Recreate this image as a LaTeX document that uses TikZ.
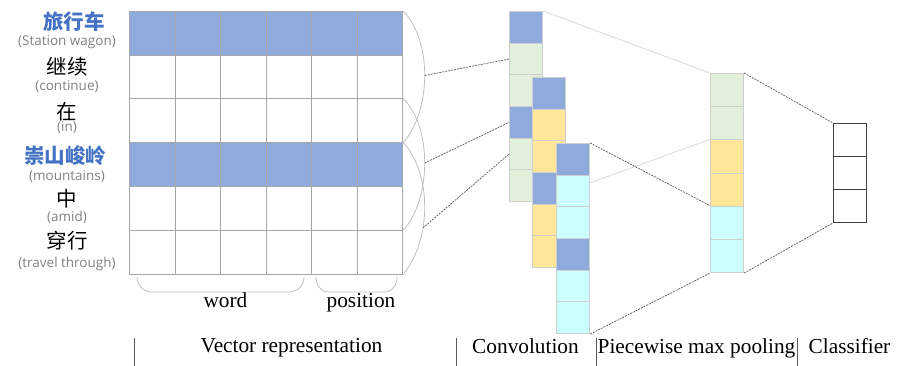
\documentclass[tikz,border=0pt]{standalone}
\usepackage{fontspec}
\setmainfont{Liberation Serif}
\newfontfamily\cjk{Noto Sans CJK SC}
\newfontfamily\engl{Open Sans}
\usetikzlibrary{calc}
\definecolor{cblue}{HTML}{8FAADC}
\definecolor{cgreen}{HTML}{E2EFDA}
\definecolor{cyellow}{HTML}{FFE699}
\definecolor{ccyan}{HTML}{CCFFFF}
\definecolor{gridgray}{HTML}{A6A6A6}
\definecolor{cellgray}{HTML}{CFCFCF}
\definecolor{arcgray}{HTML}{BFBFBF}
\definecolor{dashgray}{HTML}{595959}
\definecolor{lightline}{HTML}{D9D9D9}
\definecolor{txtblue}{HTML}{4472C4}
\definecolor{txtgray}{HTML}{808080}
\definecolor{clsgray}{HTML}{404040}
\begin{document}
\begin{tikzpicture}[x=1pt,y=-1pt,
  gcell/.style={draw=gridgray, line width=0.9pt, inner sep=0pt, minimum width=45.5pt, minimum height=43.83pt, anchor=north west},
  ccell/.style={draw=cellgray, line width=1.1pt, inner sep=0pt, minimum width=33pt, minimum height=31.67pt, anchor=north west},
  pcell/.style={draw=cellgray, line width=1.1pt, inner sep=0pt, minimum width=33pt, minimum height=33.17pt, anchor=north west},
  kcell/.style={draw=clsgray, line width=1pt, fill=white, inner sep=0pt, minimum width=33pt, minimum height=33pt, anchor=north west},
  zh/.style={font=\cjk\fontsize{20.5}{21}\selectfont, inner sep=0pt},
  zhb/.style={font=\cjk\bfseries\fontsize{20.5}{21}\selectfont, text=txtblue, inner sep=0pt},
  en/.style={font=\engl\fontsize{13.5}{14}\selectfont, text=txtgray, inner sep=0pt},
  serif/.style={font=\fontsize{21.3}{22}\selectfont, inner sep=0pt, anchor=base},
  bracket/.style={draw=arcgray, line width=0.8pt},
  dline/.style={draw=dashgray, line width=0.7pt, dash pattern=on 2pt off 1pt},
  lline/.style={draw=lightline, line width=0.8pt},
  sep/.style={draw=dashgray, line width=0.8pt}]
\useasboundingbox (0,0) rectangle (898,366);

% word labels
\node[zhb] (w1) at (74,22) {旅行车};
\node[en] (e1) at (67,42) {(Station wagon)};
\node[zh] (w2) at (67,67) {继续};
\node[en] (e2) at (67,87) {(continue)};
\node[zh] (w3) at (67,112) {在};
\node[en] (e3) at (67,128) {(in)};
\node[zhb] (w4) at (65,156) {崇山峻岭};
\node[en] (e4) at (67,177) {(mountains)};
\node[zh] (w5) at (67,199) {中};
\node[en] (e5) at (67,217) {(amid)};
\node[zh] (w6) at (67,241) {穿行};
\node[en] (e6) at (67,264) {(travel through)};

% embedding grid
\foreach \r in {1,4} \foreach \c in {1,...,6}
  \node[gcell, fill=cblue] (g\r-\c) at ({129+(\c-1)*45.5},{10.7+(\r-1)*43.83}) {};
\foreach \r in {2,3,5,6} \foreach \c in {1,...,6}
  \node[gcell, fill=white] (g\r-\c) at ({129+(\c-1)*45.5},{10.7+(\r-1)*43.83}) {};

% brackets under grid
\draw[bracket] (137,277) to[out=-90,in=180] (152,292) -- (289,292) to[out=0,in=-90] (304,277);
\draw[bracket] (316,277) to[out=-90,in=180] (328,292) -- (385,292) to[out=0,in=-90] (397,277);
\node[serif] (word) at (225.5,308) {word};
\node[serif] (pos) at (361,308) {position};

% arcs (windows)
\draw[bracket] (g1-6.north east) .. controls (432,40) and (432,110) .. coordinate[pos=0.5] (a1) (g3-6.south east);
\draw[bracket] (g3-6.north east) .. controls (432,126) and (432,199) .. coordinate[pos=0.5] (a2) (g5-6.south east);
\draw[bracket] (g4-6.north east) .. controls (432,173) and (432,240) .. coordinate[pos=0.64] (a3) (g6-6.south east);

% convolution columns
\foreach \i/\col in {1/cblue,2/cgreen,3/cgreen,4/cblue,5/cgreen,6/cgreen}
  \node[ccell, fill=\col] (c1-\i) at (509,{11+(\i-1)*31.67}) {};
\foreach \i/\col in {1/cblue,2/cyellow,3/cyellow,4/cblue,5/cyellow,6/cyellow}
  \node[ccell, fill=\col] (c2-\i) at (532,{77+(\i-1)*31.67}) {};
\foreach \i/\col in {1/cblue,2/ccyan,3/ccyan,4/cblue,5/ccyan,6/ccyan}
  \node[ccell, fill=\col] (c3-\i) at (556,{143+(\i-1)*31.67}) {};

% pooling column
\foreach \i/\col in {1/cgreen,2/cgreen,3/cyellow,4/cyellow,5/ccyan,6/ccyan}
  \node[pcell, fill=\col] (p\i) at (710,{73+(\i-1)*33.17}) {};

% classifier
\foreach \i in {1,2,3}
  \node[kcell] (k\i) at (833,{123+(\i-1)*33}) {};

% connectors
\draw[dline] (a1) -- (c1-2.west);
\draw[dline] (a2) -- (c1-4.west);
\draw[dline] (a3) -- (c1-5.west);
\draw[lline] (c1-1.north east) -- (p1.north west);
\coordinate (c3m) at ($(c3-2.north east)!0.25!(c3-2.south east)$);
\draw[lline] (c3m) -- (p3.north west);
\draw[dline] (c3-1.north east) -- (p5.north west);
\draw[dline] (c3-6.south east) -- (p6.south west);
\draw[dline] (p1.north east) -- (k1.north west);
\draw[dline] (p6.south east) -- (k3.south west);

% bottom captions
\coordinate (s1t) at (134,338); \coordinate (s1b) at (134,366);
\coordinate (s2t) at (456,338); \coordinate (s2b) at (456,366);
\coordinate (s3t) at (596,338); \coordinate (s3b) at (596,366);
\coordinate (s4t) at (797,338); \coordinate (s4b) at (797,366);
\draw[sep] (s1t) -- (s1b);
\draw[sep] (s2t) -- (s2b);
\draw[sep] (s3t) -- (s3b);
\draw[sep] (s4t) -- (s4b);
\node[serif] (t1) at (291.5,353) {Vector representation};
\node[serif] (t2) at (525.5,354) {Convolution};
\node[serif] (t3) at (696.5,354) {Piecewise max pooling};
\node[serif] (t4) at (849.5,354) {Classifier};
\end{tikzpicture}
\end{document}
